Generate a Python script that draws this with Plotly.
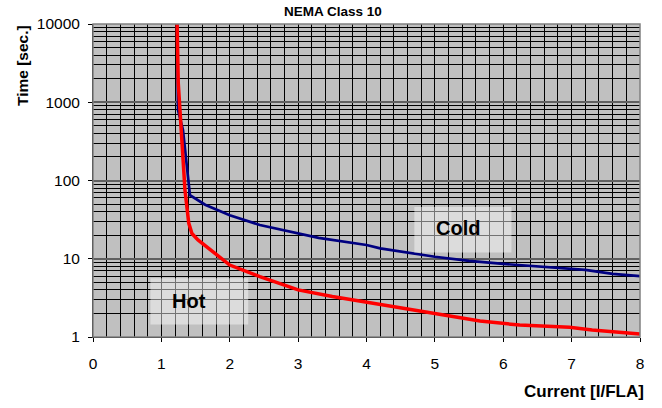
import plotly.graph_objects as go

# Data
cold_x = [1.23, 1.243, 1.316, 1.40, 1.418, 1.64, 2.0, 2.44, 3.0, 3.3, 4.0, 4.2, 5.0, 5.5, 6.0, 6.6, 7.2, 7.6, 8.0]
cold_y = [10000, 795, 442, 76, 65, 49, 36, 27, 21, 18.5, 15, 13.6, 10.6, 9.4, 8.6, 7.8, 7.2, 6.4, 6.0]
hot_x = [1.23, 1.247, 1.272, 1.345, 1.40, 1.447, 1.535, 2.0, 2.44, 3.0, 3.5, 4.0, 4.2, 5.0, 5.66, 6.24, 6.97, 7.3, 8.0]
hot_y = [10000, 1762, 795, 76, 28.6, 21, 17.4, 8.3, 5.9, 4.0, 3.3, 2.8, 2.56, 1.97, 1.6, 1.42, 1.33, 1.23, 1.09]
x_ticks = [0, 1, 2, 3, 4, 5, 6, 7, 8]
y_ticks = [1, 10, 100, 1000, 10000]
y_minor = [m * 10 ** d for d in range(4) for m in range(2, 10)]

title = "NEMA Class 10"
x_title = "Current [I/FLA]"
y_title = "Time [sec.]"
labels = ["Cold", "Hot"]

fig = go.Figure()
fig.add_trace(go.Scatter(x=cold_x, y=cold_y, mode="lines", name=labels[0],
                         line=dict(color="#000080", width=2.7)))
fig.add_trace(go.Scatter(x=hot_x, y=hot_y, mode="lines", name=labels[1],
                         line=dict(color="#FF0000", width=3.5)))

font = "Arial, Liberation Sans, sans-serif"
L, R, T, B = 93, 640, 24, 337
W, H = 662, 408
pw, ph = R - L, B - T
fig.update_layout(
    width=W, height=H,
    margin=dict(l=L, r=W - R, t=T, b=H - B, autoexpand=False),
    paper_bgcolor="white", plot_bgcolor="#C0C0C0",
    showlegend=False,
    font=dict(family=font, size=15, color="black"),
)
fig.update_xaxes(
    range=[0, 8], tickvals=x_ticks, ticks="outside", ticklen=4, tickcolor="black",
    showline=True, linecolor="black", linewidth=1,
    showgrid=True, gridcolor="black", gridwidth=1,
    minor=dict(dtick=0.2, showgrid=True, gridcolor="black", gridwidth=1, ticks=""),
    zeroline=False, tickfont=dict(size=15.5), automargin=False, ticklabelstandoff=8,
)
fig.update_yaxes(
    type="log", range=[0, 4], tickvals=y_ticks, ticktext=[str(v) for v in y_ticks],
    ticks="outside", ticklen=4, tickcolor="black",
    showline=True, linecolor="black", linewidth=1,
    showgrid=True, gridcolor="#606060", gridwidth=1.5,
    minor=dict(tickvals=y_minor, showgrid=True, gridcolor="black", gridwidth=1, ticks=""),
    zeroline=False, tickfont=dict(size=15.5), automargin=False, ticklabelstandoff=5,
)
# border top/right
fig.add_shape(type="rect", xref="paper", yref="paper", x0=0, x1=1, y0=0, y1=1,
              line=dict(color="#808080", width=1.5), layer="above")
# label boxes
fig.add_shape(type="rect", xref="x", yref="y", x0=4.7, x1=6.12, y0=10 ** 1.08, y1=10 ** 1.66,
              fillcolor="rgba(255,255,255,0.45)", line=dict(width=0), layer="above")
fig.add_shape(type="rect", xref="x", yref="y", x0=0.84, x1=2.27, y0=10 ** 0.16, y1=10 ** 0.75,
              fillcolor="rgba(255,255,255,0.45)", line=dict(width=0), layer="above")
fig.add_annotation(x=5.34, y=1.39, xref="x", yref="y", text="<b>%s</b>" % labels[0],
                   showarrow=False, font=dict(size=20, family=font),
                   xanchor="center", yanchor="middle")
fig.add_annotation(x=1.40, y=0.455, xref="x", yref="y", text="<b>%s</b>" % labels[1],
                   showarrow=False, font=dict(size=20, family=font),
                   xanchor="center", yanchor="middle")
# titles (positions in reference pixels, converted to paper units)
fig.add_annotation(x=(333 - L) / pw, y=1 + (T - 12) / ph, xref="paper", yref="paper",
                   text="<b>%s</b>" % title, showarrow=False, font=dict(size=13.5, family=font),
                   xanchor="center", yanchor="middle")
fig.add_annotation(x=(646 - L) / pw, y=-(391 - B) / ph, xref="paper", yref="paper",
                   text="<b>%s</b>" % x_title, showarrow=False, xanchor="right", yanchor="middle",
                   font=dict(size=17, family=font))
fig.add_annotation(x=-(L - 22) / pw, y=(B - 66) / ph, xref="paper", yref="paper",
                   text="<b>%s</b>" % y_title, showarrow=False, textangle=-90,
                   xanchor="center", yanchor="middle",
                   font=dict(size=15.5, family=font))

fig.write_html("out.html", config={"displayModeBar": False},
               post_script="document.body.style.margin='0';")
